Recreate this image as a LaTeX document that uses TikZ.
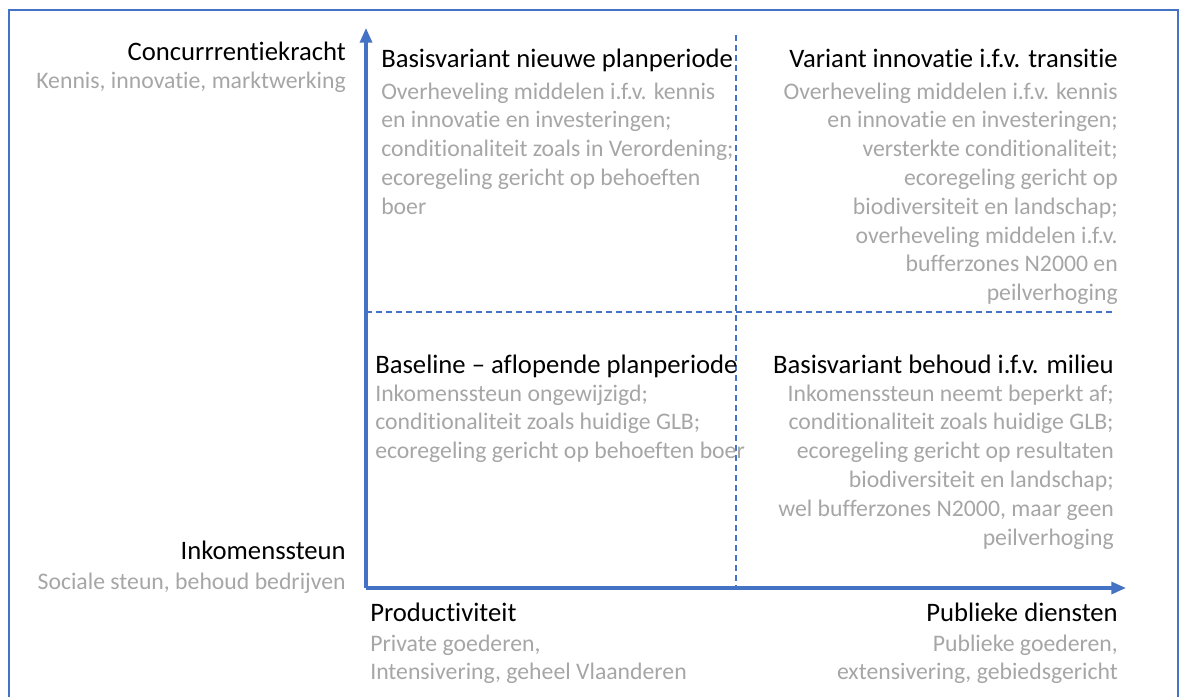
\documentclass[tikz,border=0pt]{standalone}
\usepackage{fontspec}
\setmainfont{Carlito}[Ligatures=NoCommon]
\usetikzlibrary{positioning,arrows.meta}
\definecolor{axisblue}{HTML}{4472C4}
\definecolor{notegray}{HTML}{A6A6A6}
\tikzset{head/.style={font=\fontsize{20}{21.6}\selectfont,inner sep=0pt},
 note/.style={inner sep=0pt,font=\fontsize{17.8}{21.6}\selectfont,text=notegray},
 axis line/.style={axisblue,line width=2.4pt,-{Triangle[length=11pt,width=9pt]}},
 split line/.style={axisblue,line width=0.9pt,dash pattern=on 4.5pt off 3pt}}

\begin{document}
\begin{tikzpicture}[x=0.75pt,y=-0.75pt]
\useasboundingbox (0,0) rectangle (1181,696);
\draw[axisblue,line width=0.9pt] (9,700) -- (9,10) -- (1178,10) -- (1178,700);

% assen en kwadranten
\coordinate (O) at (366,588);
\coordinate (ytop) at (366,28);
\coordinate (xend) at (1126,588);
\draw[split line] (736,35) -- (736,588);
\draw[split line] (366,312) -- (1116,312);
\draw[axis line] (O) -- (ytop);
\draw[axis line] (O) -- (xend);

% labels bij de assen
\node[head,anchor=base east] (CK) at (346,60) {Concurrrentiekracht};
\node[note,anchor=base east] (CKsub) at (346,88) {Kennis, innovatie, marktwerking};
\node[head,anchor=base east] (IS) at (346,559) {Inkomenssteun};
\node[note,anchor=base east] (ISsub) at (346,589) {Sociale steun, behoud bedrijven};
\node[head,anchor=base west] (PR) at (370,621) {Productiviteit};
\node[note,below=10pt of PR.base west,anchor=north west,align=left] (PRsub) {Private goederen,\\Intensivering, geheel Vlaanderen};
\node[head,anchor=base east] (PD) at (1118,621) {Publieke diensten};
\node[note,below=10pt of PD.base east,anchor=north east,align=right] (PDsub) {Publieke goederen,\\extensivering, gebiedsgericht};

% kwadrant linksboven
\node[head,anchor=base west] (BN) at (381,67) {Basisvariant nieuwe planperiode};
\node[note,below=11.5pt of BN.base west,anchor=north west,align=left] (BNsub) {Overheveling middelen i.f.v. kennis\\en innovatie en investeringen;\\conditionaliteit zoals in Verordening;\\ecoregeling gericht op behoeften\\boer};

% kwadrant rechtsboven
\node[head,anchor=base east] (VI) at (1118,67) {Variant innovatie i.f.v. transitie};
\node[note,below=11.5pt of VI.base east,anchor=north east,align=right] (VIsub) {Overheveling middelen i.f.v. kennis\\en innovatie en investeringen;\\versterkte conditionaliteit;\\ecoregeling gericht op\\biodiversiteit en landschap;\\overheveling middelen i.f.v.\\bufferzones N2000 en\\peilverhoging};

% kwadrant linksonder
\node[head,anchor=base west] (BL) at (375,373) {Baseline -- aflopende planperiode};
\node[note,below=8.5pt of BL.base west,anchor=north west,align=left] (BLsub) {Inkomenssteun ongewijzigd;\\conditionaliteit zoals huidige GLB;\\ecoregeling gericht op behoeften boer};

% kwadrant rechtsonder
\node[head,anchor=base east] (BB) at (1114,373) {Basisvariant behoud i.f.v. milieu};
\node[note,below=8.5pt of BB.base east,anchor=north east,align=right] (BBsub) {Inkomenssteun neemt beperkt af;\\conditionaliteit zoals huidige GLB;\\ecoregeling gericht op resultaten\\biodiversiteit en landschap;\\wel bufferzones N2000, maar geen\\peilverhoging};
\end{tikzpicture}
\end{document}
